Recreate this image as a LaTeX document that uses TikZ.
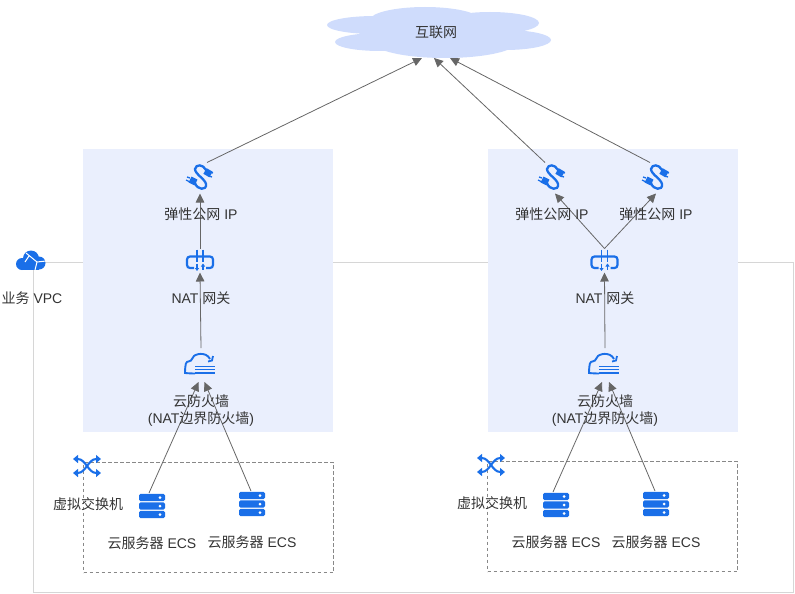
\documentclass[tikz,border=0pt]{standalone}
\usepackage{fontspec}
\setmainfont{Liberation Sans}
\newfontfamily\cjk{Noto Sans CJK SC}
\newcommand{\cn}[1]{{\cjk #1}}
\usetikzlibrary{positioning,calc,arrows.meta}
\definecolor{netBlue}{HTML}{1A6FE8}
\definecolor{netPanel}{HTML}{EAEFFD}
\definecolor{netCloud}{HTML}{CFDCFC}
\definecolor{netLine}{HTML}{666666}
\definecolor{netBorder}{HTML}{D6D6D6}
\definecolor{netDash}{HTML}{888888}
\definecolor{netText}{HTML}{333333}
\tikzset{
  zone panel/.style={
    rectangle, fill=netPanel, inner sep=0pt, outer sep=0pt,
    minimum width=250pt, minimum height=283pt, anchor=north west,
  },
  subnet box/.style={
    rectangle, draw=netDash, dash pattern=on 3.5pt off 2.5pt, line width=0.6pt,
    inner sep=0pt, outer sep=0pt,
    minimum width=250pt, minimum height=110pt, anchor=north west,
  },
  icon spot/.style={rectangle, inner sep=0pt, outer sep=0pt, minimum width=28pt, minimum height=#1},
  net label/.style={font=\fontsize{14}{17}\selectfont, text=netText, inner sep=0pt, align=center},
  flow line/.style={draw=netLine, line width=0.8pt, -{Triangle[length=9pt,width=8.5pt]}},
  eip icon/.pic={
    % cable with a plug on either end
    \draw[netBlue, line width=2.3pt, line cap=round]
      (-5,5) .. controls (-3,12) and (7,13) .. (6,6)
      .. controls (5,1) and (-5,-4) .. (-5,-9)
      .. controls (-4,-14) and (3,-14) .. (6,-8);
    \draw[netBlue, line width=6.5pt] (-10,1.5) -- (-4,4.5);
    \draw[netBlue, line width=6.5pt] (5,-7) -- (11,-3.5);
    \draw[netBlue, line width=1.3pt] (-10,0) -- (-13,-1) (-11,3.5) -- (-14,2);
    \draw[netBlue, line width=1.3pt] (10,-6) -- (13,-5) (9,-2) -- (12,-1);
  },
  nat icon/.pic={
    % gateway body with two crossing flows
    \draw[netBlue, line width=2.2pt, rounded corners=3pt]
      (-6,7.5) -- (-13,7.5) -- (-13,-4) -- (13,-4) -- (13,7.5) -- (6,7.5);
    \draw[netBlue, line width=1.9pt] (-3,-11) -- (-3,1) (3,-11) -- (3,1);
    \draw[netBlue, line width=1.5pt, -{Triangle[length=3pt,width=4pt]}] (-3,3) -- (-3,10.5);
    \draw[netBlue, line width=1.5pt, {Triangle[length=3pt,width=4pt]}-] (3,3) -- (3,9.5);
  },
  fw icon/.pic={
    % cloud outline, turning arrow, wall lines
    \draw[netBlue, line width=1.9pt, rounded corners=5pt]
      (-8,8.5) -- (-11,8.5) .. controls (-16,8) and (-16,-3) .. (-9,-3)
      .. controls (-7,-11) and (5,-14) .. (9,-6);
    \draw[netBlue, line width=1.8pt] (7,-3.5) -- (11,-4.5) -- (12,-9);
    \foreach \wy in {1.5,4.5,8}
      \draw[netBlue, line width=1.7pt] (-6,\wy) -- (14,\wy);
  },
  vsw icon/.pic={
    % crossing links with arrows at each end
    \draw[netBlue, line width=2.1pt, {Triangle[length=5pt,width=8pt]}-{Triangle[length=5pt,width=8pt]}]
      (-14,-7) .. controls (-1,-7) and (1,7) .. (14,7);
    \draw[netBlue, line width=2.1pt, {Triangle[length=5pt,width=8pt]}-{Triangle[length=5pt,width=8pt]}]
      (-14,7) .. controls (-1,7) and (1,-7) .. (14,-7);
  },
  ecs icon/.pic={
    % stacked server trays
    \foreach \sy in {-8.5,0,8.5} {
      \fill[netBlue, rounded corners=1.5pt] (-13,\sy-3.7) rectangle (13,\sy+3.7);
      \fill[white] (8,\sy) circle (1.5);
    }
  },
  vpc icon/.pic={
    % solid cloud with white links
    \fill[netBlue] (-9,3) circle (6) (0,-2.5) circle (8) (8,2) circle (6.5);
    \fill[netBlue] (-9,2) rectangle (8,8.8);
    \draw[white, line width=1pt] (-5,-8) -- (6,1) -- (4,9) (6,1) -- (15,0) (-2,-5) -- (-6,1);
  },
}

\begin{document}
\begin{tikzpicture}[x=1pt,y=-1pt]
\useasboundingbox (0,0) rectangle (795,594);

% --- VPC outline ---
\node[inner sep=0pt, minimum size=1pt] (vpcCorner) at (33.5,262.5) {};
\coordinate (vpcEnd) at (793,592.5);
\draw[netBorder, line width=0.9pt] (vpcCorner.center) -- (vpcCorner.center |- vpcEnd)
  -- (vpcEnd) -- (vpcEnd |- vpcCorner.center) -- (vpcCorner.center);

% --- zones ---
\node[zone panel] (zoneA) at (83,149) {};
\node[zone panel] (zoneB) at (487.5,149) {};
\node[subnet box] (subnetA) at (83.5,462.5) {};
\node[subnet box] (subnetB) at (487.5,461.5) {};

% Internet cloud
\fill[netCloud]
  (375,25) ellipse (48 and 9)
  (425,20) ellipse (55 and 13)
  (490,23) ellipse (49 and 11)
  (505,40) ellipse (46 and 10)
  (380,42) ellipse (45 and 9)
  (445,42) ellipse (72 and 16);
\node[rectangle, inner sep=0pt, outer sep=0pt, minimum width=200pt, minimum height=52pt] (inet) at (437,32) {};
\node[net label] (inetText) at (436,32) {\cn{互联网}};

% --- left side ---
\node[icon spot=31pt] (eipA) at (200,178) {};
\node[icon spot=24pt] (natA) at (200,260.5) {};
\node[icon spot=34pt] (fwA) at (201,365) {};
\node[icon spot=26pt] (ecsA) at (152,506) {};
\node[icon spot=26pt] (ecsB) at (252,504) {};
\draw[flow line] (natA.north) -- (eipA.south);
\draw[flow line] ([xshift=0pt]fwA.north) -- ([xshift=0pt]natA.south);
\draw[flow line] ([xshift=-3pt]ecsA.north) -- ([xshift=-2.5pt]fwA.south);
\draw[flow line] ([xshift=-1pt]ecsB.north) -- ([xshift=3.5pt]fwA.south);
\draw[flow line] ([xshift=7pt]eipA.north) -- ([xshift=-15pt]inet.south);
\pic at (eipA) {eip icon};
\pic at (natA) {nat icon};
\pic at (fwA) {fw icon};
\pic at (ecsA) {ecs icon};
\pic at (ecsB) {ecs icon};
\pic at (87,466) {vsw icon};
\node[net label] (eipAText) at (201,214) {\cn{弹性公网} IP};
\node[net label] (natAText) at (201,298) {NAT \cn{网关}};
\node[net label] (fwAText) at (201,410.5) {\cn{云防火墙}\\(NAT\cn{边界防火墙})};
\node[net label] (vswAText) at (88,504) {\cn{虚拟交换机}};
\node[net label] (ecsAText) at (152,543) {\cn{云服务器} ECS};
\node[net label] (ecsBText) at (252,542) {\cn{云服务器} ECS};

% --- right side ---
\node[icon spot=31pt] (eipB) at (552,178) {};
\node[icon spot=31pt] (eipC) at (656,178) {};
\node[icon spot=24pt] (natB) at (604.5,260.5) {};
\node[icon spot=34pt] (fwB) at (605,365) {};
\node[icon spot=26pt] (ecsC) at (556,505) {};
\node[icon spot=26pt] (ecsD) at (656,504) {};
\draw[flow line] (natB.north) -- ([xshift=3pt]eipB.south);
\draw[flow line] (natB.north) -- (eipC.south);
\draw[flow line] (fwB.north) -- (natB.south);
\draw[flow line] ([xshift=-3pt]ecsC.north) -- ([xshift=-3pt]fwB.south);
\draw[flow line] ([xshift=-1pt]ecsD.north) -- ([xshift=4pt]fwB.south);
\draw[flow line] ([xshift=-7pt]eipB.north) -- ([xshift=-3pt]inet.south);
\draw[flow line] ([xshift=-6pt]eipC.north) -- ([xshift=13pt]inet.south);
\pic at (eipB) {eip icon};
\pic at (eipC) {eip icon};
\pic at (natB) {nat icon};
\pic at (fwB) {fw icon};
\pic at (ecsC) {ecs icon};
\pic at (ecsD) {ecs icon};
\pic at (491,465) {vsw icon};
\node[net label] (eipBText) at (552,214) {\cn{弹性公网} IP};
\node[net label] (eipCText) at (656,214) {\cn{弹性公网} IP};
\node[net label] (natBText) at (605,298) {NAT \cn{网关}};
\node[net label] (fwBText) at (605,410.5) {\cn{云防火墙}\\(NAT\cn{边界防火墙})};
\node[net label] (vswBText) at (492,503) {\cn{虚拟交换机}};
\node[net label] (ecsCText) at (556,542) {\cn{云服务器} ECS};
\node[net label] (ecsDText) at (656,542) {\cn{云服务器} ECS};

% --- VPC badge ---
\pic at (31,261) {vpc icon};
\node[net label] (vpcText) at (32,298) {\cn{业务} VPC};

\end{tikzpicture}
\end{document}
